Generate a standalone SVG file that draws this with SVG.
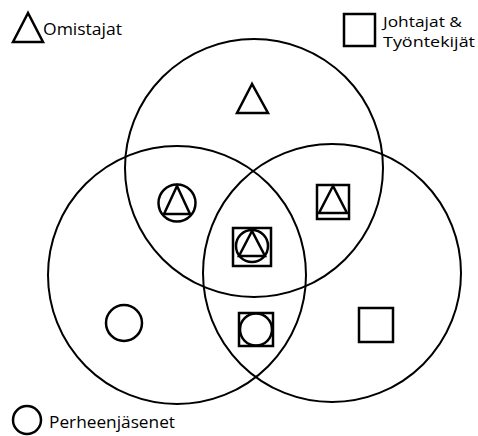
<svg xmlns="http://www.w3.org/2000/svg" width="478" height="436" viewBox="0 0 478 436">
<style>
.big{fill:none;stroke:#000;stroke-width:2}
.sym{fill:none;stroke:#000;stroke-width:2.5}
.lbl{font-family:"Open Sans","DejaVu Sans",sans-serif;font-size:16px;fill:#000}
.sm{font-size:14px}
</style>
<rect width="478" height="436" fill="#fff"/>
<g id="set-omistajat"><circle class="big" cx="254" cy="168" r="129"/></g>
<g id="set-perheenjasenet"><circle class="big" cx="177" cy="275" r="129"/></g>
<g id="set-johtajat"><circle class="big" cx="332" cy="273" r="129"/></g>
<g id="connectors"></g>
<g id="legend-omistajat">
<polygon class="sym" points="28,13 13,42 43,42"/>
<text class="lbl" x="43" y="35" textLength="79" lengthAdjust="spacingAndGlyphs">Omistajat</text>
</g>
<g id="legend-johtajat">
<rect class="sym" x="344" y="14" width="31" height="32"/>
<text class="lbl sm" x="383" y="27" textLength="79" lengthAdjust="spacingAndGlyphs">Johtajat &amp;</text>
<text class="lbl sm" x="383" y="47" textLength="92" lengthAdjust="spacingAndGlyphs">Työntekijät</text>
</g>
<g id="legend-perheenjasenet">
<circle class="sym" cx="27" cy="420" r="14"/>
<text class="lbl" x="49" y="428" textLength="126" lengthAdjust="spacingAndGlyphs">Perheenjäsenet</text>
</g>
<g id="sym-top"><polygon class="sym" points="252,84 237,113 268,113"/></g>
<g id="sym-left-top">
<circle class="sym" cx="177" cy="203" r="18.5"/>
<polygon class="sym" points="177,186 164,214 190,214"/>
</g>
<g id="sym-right-top">
<rect class="sym" x="317" y="185" width="32" height="34"/>
<polygon class="sym" points="333,186 319,213 347,213"/>
</g>
<g id="sym-center">
<rect class="sym" x="233" y="228" width="38" height="38"/>
<circle class="sym" cx="252" cy="246" r="16"/>
<polygon class="sym" points="252,231 239,256 265,256"/>
</g>
<g id="sym-bottom-left"><circle class="sym" cx="124" cy="323" r="18"/></g>
<g id="sym-bottom-center">
<rect class="sym" x="239" y="313" width="34" height="33"/>
<circle class="sym" cx="256" cy="329.5" r="16"/>
</g>
<g id="sym-bottom-right"><rect class="sym" x="359" y="308" width="34" height="34"/></g>
</svg>
